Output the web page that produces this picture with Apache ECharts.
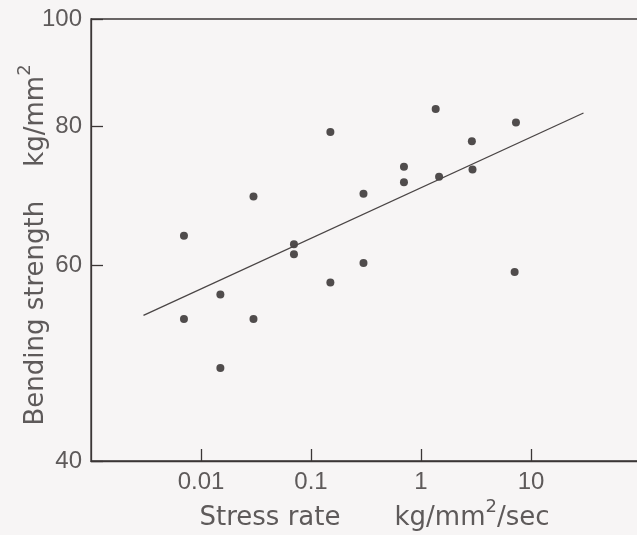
<!DOCTYPE html>
<html>
<head>
<meta charset="utf-8">
<script src="https://cdn.jsdelivr.net/npm/echarts@6/dist/echarts.min.js"></script>
<style>
html,body{margin:0;padding:0;background:#f7f5f5;}
#c{width:637px;height:535px;}
</style>
</head>
<body>
<div id="c"></div>
<script>
// Measured data (stress rate kg/mm^2/sec, bending strength kg/mm^2)
const stressRate = [0.007, 0.007, 0.015, 0.015, 0.03, 0.03, 0.07, 0.07, 0.15, 0.15, 0.3, 0.3, 0.7, 0.7, 1.36, 1.46, 2.9, 2.94, 7.3, 7.1];
const bendingStrength = [63.8, 53.7, 56.5, 48.5, 69.2, 53.7, 62.7, 61.4, 79.1, 57.9, 69.6, 60.3, 73.6, 71.3, 83.0, 72.1, 77.6, 73.2, 80.7, 59.2];
const fitX = [0.003, 30];
const fitY = [54.1, 82.3];
const xTicks = [0.01, 0.1, 1, 10];
const xTickLabels = ['0.01', '0.1', '1', '10'];
const yTicks = [40, 60, 80, 100];

const points = stressRate.map((x, i) => [x, bendingStrength[i]]);
const fitLine = fitX.map((x, i) => [x, fitY[i]]);

const lineColor = '#3b3636';
const textColor = '#5e5a5a';
const tickFont = 'Liberation Sans';
const titleFont = 'DejaVu Sans';

const titleRich = {
  a: {fontFamily: titleFont, fontSize: 26, color: textColor, padding: [7, 0, 0, 0]},
  s: {fontFamily: titleFont, fontSize: 18, color: textColor, verticalAlign: 'top'},
  g: {width: 54}
};
const titleRichY = {
  a: {fontFamily: titleFont, fontSize: 26, color: textColor, padding: [7, 0, 0, 0]},
  s: {fontFamily: titleFont, fontSize: 18, color: textColor, verticalAlign: 'top'},
  g: {width: 34}
};

const chart = echarts.init(document.getElementById('c'), null, {renderer: 'canvas'});
chart.setOption({
  backgroundColor: '#f7f5f5',
  animation: false,
  grid: {left: 91, right: -4, top: 19, bottom: 74, show: true, borderColor: lineColor, borderWidth: 1.3, containLabel: false, outerBoundsMode: 'none'},
  xAxis: {
    type: 'log', logBase: 10, min: 0.001, max: 100,
    name: '{a|Stress rate}{g| }{a|kg/mm}{s|2}{a|/sec}',
    nameLocation: 'middle', nameGap: 37, nameMoveOverlap: false,
    nameTextStyle: {rich: titleRich, padding: [0, 0, 0, 17]},
    axisLine: {lineStyle: {color: lineColor, width: 1.3}},
    axisTick: {inside: true, length: 12, customValues: xTicks, lineStyle: {color: lineColor, width: 1.3}},
    axisLabel: {customValues: xTicks, formatter: v => xTickLabels[xTicks.indexOf(v)] ?? String(v), fontFamily: tickFont, fontSize: 24, color: textColor, margin: 9},
    splitLine: {show: false}, minorTick: {show: false}
  },
  yAxis: {
    type: 'log', logBase: 10, min: 40, max: 100,
    name: '{a|Bending strength}{g| }{a|kg/mm}{s|2}',
    nameLocation: 'middle', nameGap: 42, nameRotate: 90, nameMoveOverlap: false,
    nameTextStyle: {rich: titleRichY, padding: [0, 10, 0, 0]},
    axisLine: {lineStyle: {color: lineColor, width: 1.3}},
    axisTick: {inside: true, length: 12, customValues: yTicks, lineStyle: {color: lineColor, width: 1.3}},
    axisLabel: {customValues: yTicks, formatter: v => String(Math.round(v)), fontFamily: tickFont, fontSize: 24, color: textColor, margin: 9},
    splitLine: {show: false}
  },
  series: [
    {type: 'line', data: fitLine, symbol: 'none', lineStyle: {color: '#4a4545', width: 1.3}, silent: true},
    {type: 'scatter', data: points, symbolSize: 8, itemStyle: {color: '#262222'}}
  ]
});
</script>
</body>
</html>
